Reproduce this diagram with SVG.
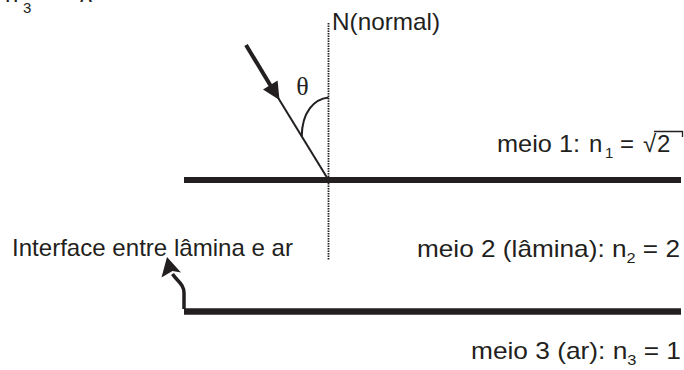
<svg xmlns="http://www.w3.org/2000/svg" width="684" height="370" viewBox="0 0 684 370">
  <style>
    .t { font-family: "Liberation Sans", Arial, sans-serif; font-size: 24px; fill: #231f20; }
    .sub { font-size: 15px; }
    .serif { font-family: "Liberation Serif", "Times New Roman", serif; font-size: 26px; fill: #231f20; }
    .thick { stroke: #231f20; stroke-width: 6; fill: none; }
    .thin { stroke: #231f20; stroke-width: 2; fill: none; }
    .dot { stroke: #231f20; stroke-width: 1.8; stroke-dasharray: 1.4 1.1; fill: none; }
  </style>
  <rect width="684" height="370" fill="#ffffff"/>

  <g id="top-fragment">
    <text class="t" x="5" y="2">n</text>
    <text class="t sub" x="23" y="13">3</text>
    <text class="t" x="80" y="2">λ</text>
  </g>

  <g id="interface-1">
    <line class="thick" x1="184" y1="180" x2="681" y2="180"/>
  </g>
  <g id="interface-2">
    <line class="thick" x1="184" y1="311.5" x2="681" y2="311.5" style="stroke-width:6.5"/>
  </g>

  <g id="normal">
    <line class="dot" x1="328.5" y1="23" x2="328.5" y2="260"/>
    <text class="t" x="332" y="30" textLength="108" lengthAdjust="spacingAndGlyphs">N(normal)</text>
  </g>

  <g id="angle">
    <path class="thin" d="M328.5,97.5 C314,99 302,112 301.7,136.5"/>
    <text class="serif" x="302.5" y="95" text-anchor="middle">θ</text>
  </g>

  <g id="medium-1">
    <text class="t" x="497" y="152" textLength="83" lengthAdjust="spacingAndGlyphs">meio 1:</text>
    <text class="t" x="589" y="152">n</text>
    <text class="t sub" x="605" y="158">1</text>
    <text class="t" x="620" y="152">=</text>
    <text class="t" x="643" y="152">√</text>
    <text class="t" x="657" y="152">2</text>
    <path d="M654,131.5 H682.5 V137" stroke="#231f20" stroke-width="1.3" fill="none"/>
  </g>

  <g id="medium-2">
    <text class="t" x="417" y="257" textLength="263" lengthAdjust="spacingAndGlyphs">meio 2 (lâmina): n<tspan class="sub" dy="6">2</tspan><tspan dy="-6"> = 2</tspan></text>
  </g>

  <g id="medium-3">
    <text class="t" x="471" y="359" textLength="210" lengthAdjust="spacingAndGlyphs">meio 3 (ar): n<tspan class="sub" dy="6">3</tspan><tspan dy="-6"> = 1</tspan></text>
  </g>

  <g id="label-interface">
    <text class="t" x="12" y="256" textLength="281" lengthAdjust="spacingAndGlyphs">Interface entre lâmina e ar</text>
  </g>

  <g id="connectors">
    <g id="incident-ray">
      <line x1="246" y1="45" x2="272" y2="88" stroke="#231f20" stroke-width="4"/>
      <polygon points="279.5,100 277.6,80.6 263,89.6" fill="#231f20"/>
      <line class="thin" x1="277" y1="96" x2="328.5" y2="180"/>
    </g>
    <g id="interface-pointer">
      <path d="M184,309 L184,293 C184,284 177,281 172.5,274" stroke="#231f20" stroke-width="3.5" fill="none"/>
      <polygon points="167,257 181,272.5 172.5,271 161.5,277.5" fill="#231f20"/>
    </g>
  </g>
</svg>
